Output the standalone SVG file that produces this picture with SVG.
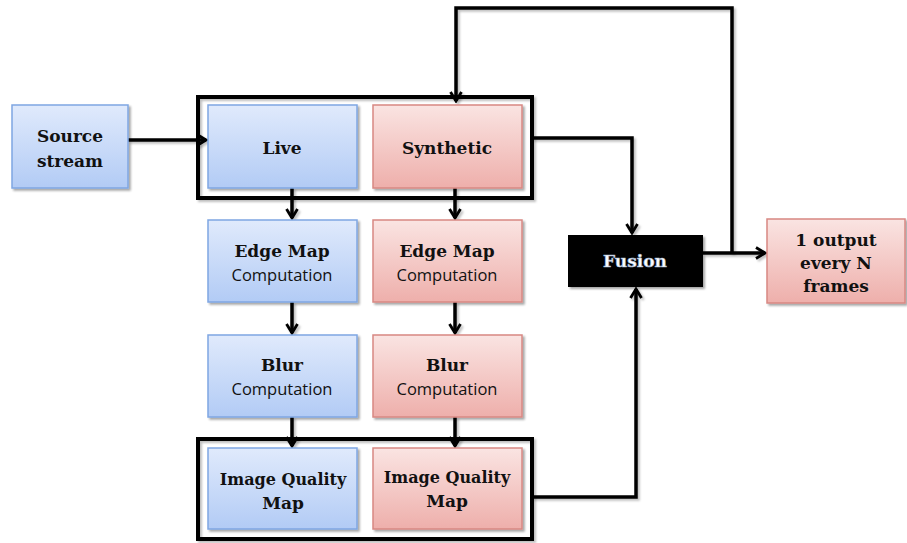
<svg xmlns="http://www.w3.org/2000/svg" width="907" height="543" viewBox="0 0 907 543">
  <defs>
    <linearGradient id="gBlue" x1="0" y1="0" x2="0" y2="1">
      <stop offset="0" stop-color="#e0eafc"/>
      <stop offset="1" stop-color="#b2cbf5"/>
    </linearGradient>
    <linearGradient id="gRed" x1="0" y1="0" x2="0" y2="1">
      <stop offset="0" stop-color="#fae4e2"/>
      <stop offset="1" stop-color="#eeafab"/>
    </linearGradient>
    <filter id="shadow" filterUnits="userSpaceOnUse" x="0" y="0" width="907" height="543">
      <feDropShadow dx="2" dy="2" stdDeviation="1.2" flood-color="#000" flood-opacity="0.35"/>
    </filter>
    <filter id="lineShadow" filterUnits="userSpaceOnUse" x="0" y="0" width="907" height="543">
      <feDropShadow dx="2" dy="2" stdDeviation="0.8" flood-color="#000" flood-opacity="0.25"/>
    </filter>
    <marker id="arrow" viewBox="0 0 14 14" refX="12" refY="7" markerWidth="14" markerHeight="14" markerUnits="userSpaceOnUse" orient="auto">
      <path d="M3,1.5 L12,7 L3,12.5" fill="none" stroke="#000" stroke-width="2.8" stroke-linejoin="miter"/>
    </marker>
  </defs>
  <style>
    .blue { fill: url(#gBlue); stroke: #7fa6e2; stroke-width: 1.5; filter: url(#shadow); }
    .red { fill: url(#gRed); stroke: #d78883; stroke-width: 1.5; filter: url(#shadow); }
    .frame { fill: none; stroke: #000; stroke-width: 4; filter: url(#lineShadow); }
    .title { font-family: "DejaVu Serif", "Liberation Serif", serif; font-weight: bold; font-size: 17px; fill: #111; text-anchor: middle; }
    .iq { font-size: 16px; }
    .sub { font-family: "Open Sans", "Liberation Sans", sans-serif; font-size: 16.5px; fill: #111; text-anchor: middle; }
    .conn { fill: none; stroke: #000; stroke-width: 3.5; filter: url(#lineShadow); }
  </style>

  <rect width="907" height="543" fill="#ffffff"/>

  <!-- group frames -->
  <rect class="frame" x="198" y="97" width="334" height="101"/>
  <rect class="frame" x="198" y="439" width="334" height="100"/>

  <!-- connectors -->
  <g id="connectors">
    <path class="conn" d="M128,140 H206" marker-end="url(#arrow)"/>
    <path class="conn" d="M292,188 V218" marker-end="url(#arrow)"/>
    <path class="conn" d="M455,188 V218" marker-end="url(#arrow)"/>
    <path class="conn" d="M292,302 V333" marker-end="url(#arrow)"/>
    <path class="conn" d="M455,302 V333" marker-end="url(#arrow)"/>
    <path class="conn" d="M292,417 V446" marker-end="url(#arrow)"/>
    <path class="conn" d="M455,417 V446" marker-end="url(#arrow)"/>
    <path class="conn" d="M532,138 H632 V233" marker-end="url(#arrow)"/>
    <path class="conn" d="M532,497 H636 V289" marker-end="url(#arrow)"/>
    <path class="conn" d="M703,253 H765" marker-end="url(#arrow)"/>
    <path class="conn" d="M732,253 V8 H456 V101" marker-end="url(#arrow)"/>
  </g>

  <g id="source">
    <rect class="blue" x="12" y="105" width="116" height="83"/>
    <text class="title" x="70" y="142">Source</text>
    <text class="title" x="70" y="167">stream</text>
  </g>

  <g id="live">
    <rect class="blue" x="208" y="105" width="149" height="83"/>
    <text class="title" x="282" y="154">Live</text>
  </g>

  <g id="synthetic">
    <rect class="red" x="373" y="105" width="149" height="83"/>
    <text class="title" x="447" y="154">Synthetic</text>
  </g>

  <g id="edge-live">
    <rect class="blue" x="208" y="220" width="149" height="82"/>
    <text class="title" x="282" y="257">Edge Map</text>
    <text class="sub" x="282" y="281">Computation</text>
  </g>

  <g id="edge-synthetic">
    <rect class="red" x="373" y="220" width="149" height="82"/>
    <text class="title" x="447" y="257">Edge Map</text>
    <text class="sub" x="447" y="281">Computation</text>
  </g>

  <g id="blur-live">
    <rect class="blue" x="208" y="335" width="149" height="82"/>
    <text class="title" x="282" y="371">Blur</text>
    <text class="sub" x="282" y="395">Computation</text>
  </g>

  <g id="blur-synthetic">
    <rect class="red" x="373" y="335" width="149" height="82"/>
    <text class="title" x="447" y="371">Blur</text>
    <text class="sub" x="447" y="395">Computation</text>
  </g>

  <g id="iq-live">
    <rect class="blue" x="208" y="448" width="149" height="81"/>
    <text class="title iq" x="283" y="485">Image Quality</text>
    <text class="title" x="283" y="509">Map</text>
  </g>

  <g id="iq-synthetic">
    <rect class="red" x="373" y="448" width="149" height="81"/>
    <text class="title iq" x="447" y="483">Image Quality</text>
    <text class="title" x="447" y="507">Map</text>
  </g>

  <g id="fusion">
    <rect x="568" y="235" width="135" height="52" fill="#000" filter="url(#shadow)"/>
    <text class="title" x="635" y="267" style="fill:#ffffff" stroke="#9fb4d0" stroke-width="0.6">Fusion</text>
  </g>

  <g id="output">
    <rect class="red" x="767" y="219" width="138" height="84"/>
    <text class="title" x="836" y="246">1 output</text>
    <text class="title" x="836" y="269">every N</text>
    <text class="title" x="836" y="292">frames</text>
  </g>
</svg>
